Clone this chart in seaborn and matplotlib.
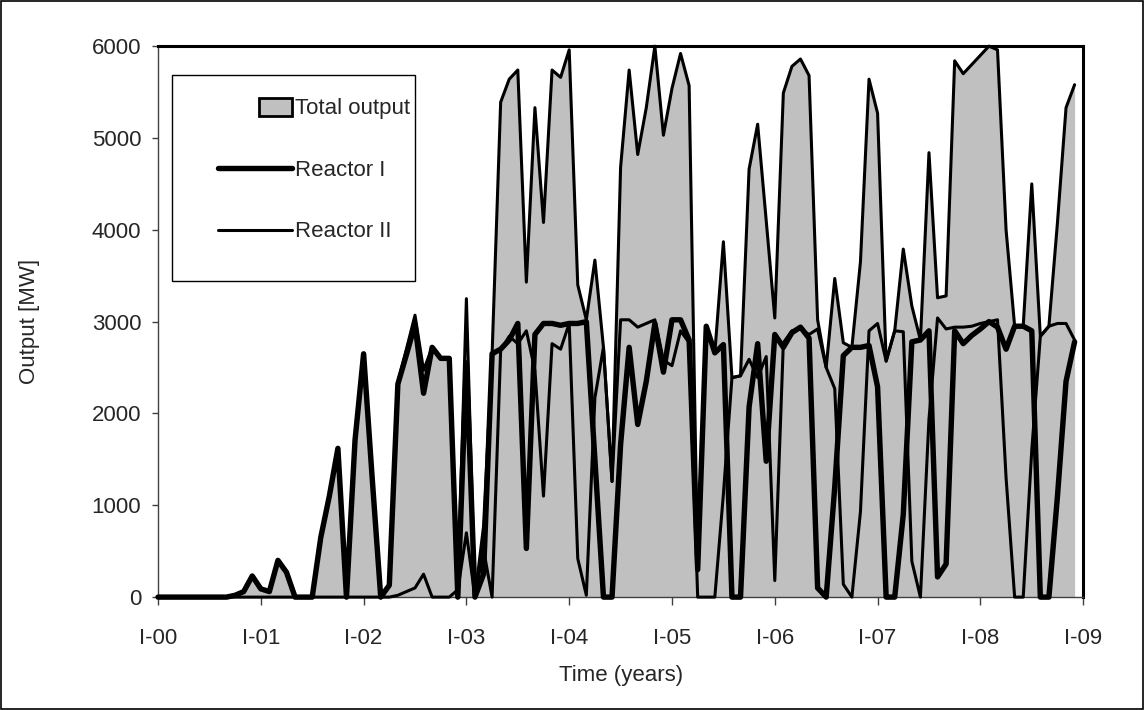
import matplotlib
matplotlib.use("Agg")
import numpy as np
import pandas as pd
import matplotlib.pyplot as plt
import seaborn as sns
from matplotlib.patches import Patch, Rectangle
from matplotlib.lines import Line2D

# monthly values, Jan 2000 .. Dec 2008 (MW)
months = list(range(108))
year_labels = ["I-00", "I-01", "I-02", "I-03", "I-04", "I-05", "I-06", "I-07", "I-08", "I-09"]

reactor_1 = [0, 0, 0, 0, 0, 0, 0, 0, 0, 20, 60, 230,
             90, 60, 400, 270, 0, 0, 0, 650, 1100, 1620, 0, 1710,
             2650, 1300, 0, 130, 2320, 2640, 2970, 2220, 2720, 2600, 2600, 0,
             2550, 0, 250, 2650, 2700, 2800, 2980, 530, 2860, 2980, 2980, 2960,
             2980, 2980, 3000, 1500, 0, 0, 1660, 2720, 1880, 2350, 2980, 2450,
             3020, 3020, 2800, 300, 2950, 2660, 2750, 0, 0, 2070, 2760, 1480,
             2860, 2720, 2880, 2940, 2820, 100, 0, 1200, 2630, 2720, 2720, 2740,
             2290, 0, 0, 900, 2780, 2800, 2900, 220, 360, 2900, 2760, 2850,
             2920, 3000, 2940, 2700, 2950, 2950, 2900, 0, 0, 1100, 2350, 2780]

reactor_2 = [0, 0, 0, 0, 0, 0, 0, 0, 0, 0, 0, 0,
             0, 0, 0, 0, 0, 0, 0, 0, 0, 0, 0, 0,
             0, 0, 0, 0, 20, 60, 100, 250, 0, 0, 0, 80,
             700, 0, 520, 0, 2690, 2840, 2760, 2900, 2470, 1100, 2760, 2700,
             2980, 420, 20, 2170, 2720, 1260, 3020, 3020, 2940, 2980, 3020, 2580,
             2520, 2900, 2770, 0, 0, 0, 1120, 2390, 2410, 2590, 2390, 2620,
             180, 2770, 2900, 2920, 2860, 2920, 2500, 2270, 140, 0, 930, 2900,
             2980, 2570, 2900, 2890, 390, 0, 1940, 3040, 2920, 2940, 2940, 2950,
             2980, 3000, 3020, 1300, 0, 0, 1600, 2840, 2950, 2980, 2980, 2800]

total_output = [0, 0, 0, 0, 0, 0, 0, 0, 0, 20, 60, 230,
                90, 60, 400, 270, 0, 0, 0, 650, 1100, 1620, 0, 1710,
                2650, 1300, 0, 130, 2340, 2700, 3070, 2470, 2720, 2600, 2600, 80,
                3250, 0, 770, 2650, 5390, 5640, 5740, 3430, 5330, 4080, 5740, 5660,
                5960, 3400, 3020, 3670, 2720, 1260, 4680, 5740, 4820, 5330, 6000, 5030,
                5540, 5920, 5570, 300, 2950, 2660, 3870, 2390, 2410, 4660, 5150, 4100,
                3040, 5490, 5780, 5860, 5680, 3020, 2500, 3470, 2770, 2720, 3650, 5640,
                5270, 2570, 2900, 3790, 3170, 2800, 4840, 3260, 3280, 5840, 5700, 5800,
                5900, 6000, 5960, 4000, 2950, 2950, 4500, 2840, 2950, 4080, 5330, 5580]

df = pd.DataFrame({"month": months,
                   "Total output": total_output,
                   "Reactor I": reactor_1,
                   "Reactor II": reactor_2})

sns.set_theme(style="white")
plt.rcParams["font.family"] = ["Liberation Sans", "DejaVu Sans"]
fs = 16

fig, ax = plt.subplots(figsize=(11.45, 7.10), dpi=100)
fig.subplots_adjust(left=0.138, right=0.946, bottom=0.159, top=0.935)

# gray area for the total, black outline, then the two reactors
ax.fill_between(df["month"], df["Total output"], color="#c0c0c0", lw=0, zorder=1)
sns.lineplot(data=df, x="month", y="Total output", color="black", lw=2.2, ax=ax, zorder=2)
sns.lineplot(data=df, x="month", y="Reactor II", color="black", lw=2.2, ax=ax, zorder=3)
sns.lineplot(data=df, x="month", y="Reactor I", color="black", lw=3.9, ax=ax, zorder=4)
for ln in ax.get_lines():
    ln.set_clip_on(False)

ax.set_xlim(0, 108)
ax.set_ylim(0, 6000)
ax.set_xticks(range(0, 109, 12))
ax.set_xticklabels(year_labels)
ax.set_yticks(range(0, 6001, 1000))

ax.tick_params(axis="x", direction="out", length=6, width=1, color="#404040",
               labelsize=fs, pad=16, bottom=True)
ax.tick_params(axis="y", direction="out", length=4, width=1, color="#404040",
               labelsize=fs, pad=8, left=True)

ax.set_xlabel("Time (years)", fontsize=fs)
ax.set_ylabel("Output [MW]", fontsize=fs)
ax.xaxis.set_label_coords(0.5, -0.123)
ax.yaxis.set_label_coords(-0.128, 0.5)

for side in ["left", "bottom"]:
    ax.spines[side].set_color("#404040")
    ax.spines[side].set_linewidth(1.0)
for side in ["top", "right"]:
    ax.spines[side].set_color("black")
    ax.spines[side].set_linewidth(2.2)


class RightHandle:
    # draws the legend key only in the right part of the handle box
    def __init__(self, frac, kind):
        self.frac = frac
        self.kind = kind

    def legend_artist(self, legend, orig_handle, fontsize, handlebox):
        x0, y0 = -handlebox.xdescent, -handlebox.ydescent
        w, h = handlebox.width, handlebox.height
        xs = x0 + w * (1 - self.frac)
        if self.kind == "patch":
            art = Rectangle((xs, y0 - 1), w * self.frac, h + 2, facecolor="#c0c0c0",
                            edgecolor="black", lw=2, transform=handlebox.get_transform())
        else:
            art = Line2D([xs, x0 + w], [y0 + h / 2, y0 + h / 2], color="black",
                         lw=orig_handle.get_linewidth(), transform=handlebox.get_transform())
        handlebox.add_artist(art)
        return art


# legend box drawn by hand so it has the reference size
ax.add_patch(Rectangle((0.0151, 0.5735), 0.263, 0.3735, transform=ax.transAxes,
                       facecolor="white", edgecolor="black", lw=1.0, zorder=9))

h_total = Patch(facecolor="#c0c0c0", edgecolor="black")
h_r1 = Line2D([], [], color="black", lw=3.9)
h_r2 = Line2D([], [], color="black", lw=2.2)
leg = ax.legend([h_total, h_r1, h_r2], ["Total output", "Reactor I", "Reactor II"],
                loc="upper left", bbox_to_anchor=(0.065, 0.905), borderaxespad=0,
                fontsize=fs, frameon=False, borderpad=0,
                labelspacing=1.82, handlelength=3.33, handletextpad=0.15,
                handler_map={h_total: RightHandle(0.45, "patch"),
                             h_r1: RightHandle(1.0, "line"),
                             h_r2: RightHandle(1.0, "line")})
leg.set_zorder(10)

# thin frame round the whole picture
fig.patches.append(Rectangle((0.001, 0.001), 0.997, 0.997, transform=fig.transFigure,
                             fill=False, edgecolor="black", lw=1.2))

fig.savefig("out.png", dpi=100)
